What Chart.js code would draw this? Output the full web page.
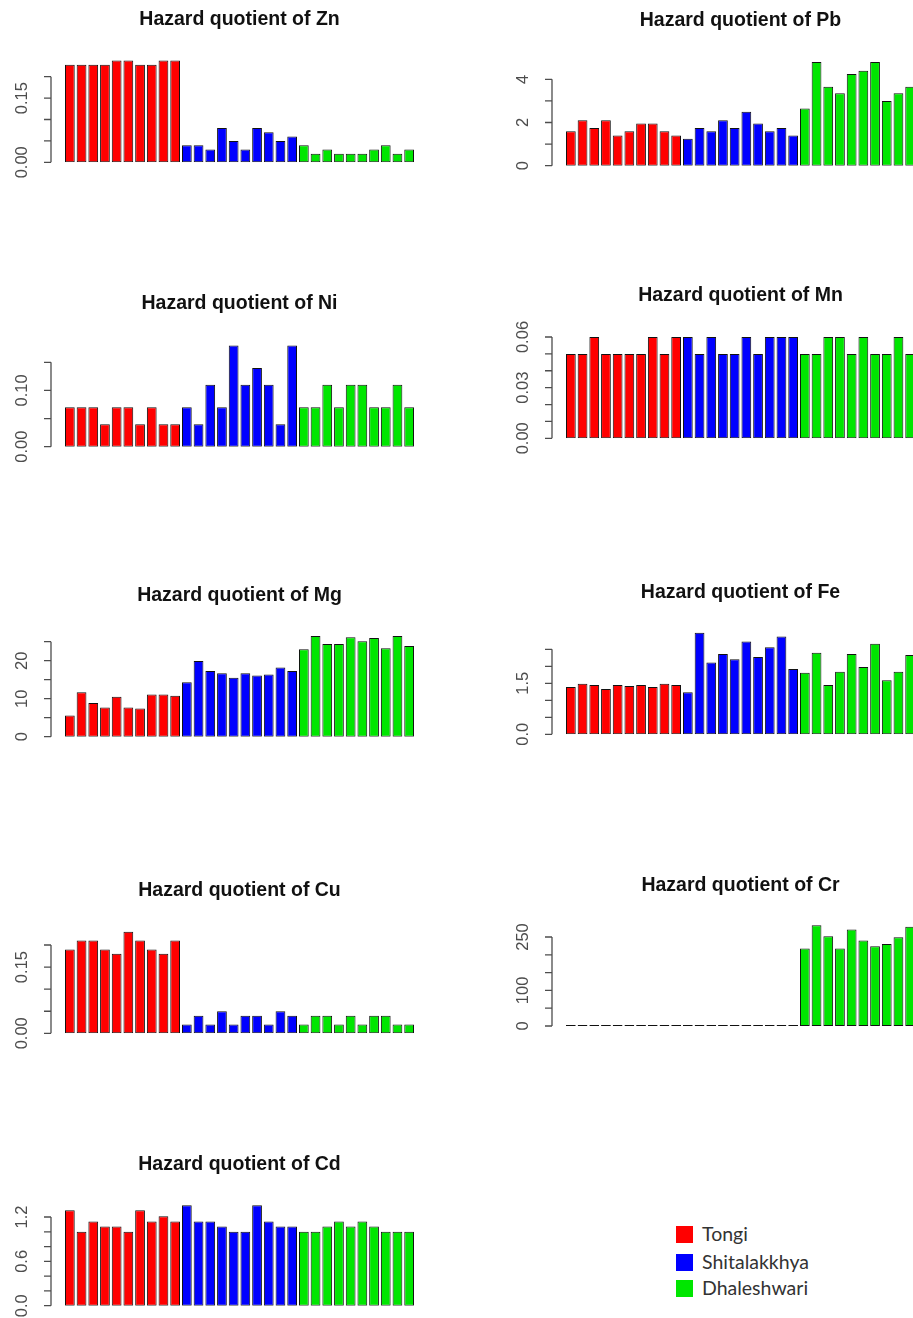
<!DOCTYPE html>
<html>
<head>
<meta charset="utf-8">
<script src="https://cdn.jsdelivr.net/npm/chart.js@4.4.1/dist/chart.umd.min.js"></script>
<style>
  body { margin: 0; background: #fff; }
  #page { position: relative; width: 913px; height: 1318px; overflow: hidden; background: #fff; }
  #page canvas { position: absolute; }
  .key { position: absolute; left: 676px; font: 19.5px Lato, "Open Sans", sans-serif; color: #333; line-height: 18px; }
  .key span { position: absolute; left: 0; top: 0; width: 17px; height: 17px; }
  .key b { position: absolute; left: 26px; top: -1px; font-weight: normal; white-space: nowrap; }
</style>
</head>
<body>
<div id="page"></div>
<script>
(() => {
    "use strict";

    // samples: 10 per river
    const categories = [
        "T1", "T2", "T3", "T4", "T5", "T6", "T7", "T8", "T9", "T10",
        "S1", "S2", "S3", "S4", "S5", "S6", "S7", "S8", "S9", "S10",
        "D1", "D2", "D3", "D4", "D5", "D6", "D7", "D8", "D9", "D10"
    ];
    const siteNames = ["Tongi", "Shitalakkhya", "Dhaleshwari"];
    const siteColors = ["#ff0000", "#0000ff", "#00e600"];

    // hazard quotients
    const zn = [0.228, 0.228, 0.228, 0.228, 0.238, 0.238, 0.228, 0.228, 0.238, 0.238,
        0.04, 0.04, 0.03, 0.08, 0.05, 0.03, 0.08, 0.07, 0.05, 0.06,
        0.04, 0.02, 0.03, 0.02, 0.02, 0.02, 0.03, 0.04, 0.02, 0.03];
    const pb = [1.6, 2.1, 1.75, 2.1, 1.4, 1.6, 1.95, 1.95, 1.6, 1.4,
        1.25, 1.75, 1.6, 2.1, 1.75, 2.5, 1.95, 1.6, 1.75, 1.4,
        2.65, 4.8, 3.65, 3.35, 4.25, 4.4, 4.8, 3.0, 3.35, 3.65];
    const ni = [0.07, 0.07, 0.07, 0.04, 0.07, 0.07, 0.04, 0.07, 0.04, 0.04,
        0.07, 0.04, 0.11, 0.07, 0.18, 0.11, 0.14, 0.11, 0.04, 0.18,
        0.07, 0.07, 0.11, 0.07, 0.11, 0.11, 0.07, 0.07, 0.11, 0.07];
    const mn = [0.05, 0.05, 0.06, 0.05, 0.05, 0.05, 0.05, 0.06, 0.05, 0.06,
        0.06, 0.05, 0.06, 0.05, 0.05, 0.06, 0.05, 0.06, 0.06, 0.06,
        0.05, 0.05, 0.06, 0.06, 0.05, 0.06, 0.05, 0.05, 0.06, 0.05];
    const mg = [5.6, 11.7, 8.9, 7.7, 10.5, 7.7, 7.4, 11.1, 11.1, 10.8,
        14.3, 19.9, 17.3, 16.7, 15.5, 16.7, 16.1, 16.4, 18.2, 17.3,
        23.0, 26.5, 24.4, 24.4, 26.2, 25.1, 26.0, 23.3, 26.5, 23.9];
    const fe = [1.39, 1.49, 1.45, 1.33, 1.45, 1.42, 1.45, 1.39, 1.49, 1.45,
        1.24, 2.99, 2.11, 2.36, 2.21, 2.73, 2.27, 2.56, 2.88, 1.92,
        1.81, 2.40, 1.45, 1.84, 2.36, 1.98, 2.66, 1.59, 1.84, 2.33];
    const cu = [0.19, 0.21, 0.21, 0.19, 0.18, 0.23, 0.21, 0.19, 0.18, 0.21,
        0.02, 0.04, 0.02, 0.05, 0.02, 0.04, 0.04, 0.02, 0.05, 0.04,
        0.02, 0.04, 0.04, 0.02, 0.04, 0.02, 0.04, 0.04, 0.02, 0.02];
    const cr = [3, 3, 3, 3, 3, 3, 3, 3, 3, 3,
        3, 3, 3, 3, 3, 3, 3, 3, 3, 3,
        218, 283, 252, 218, 271, 240, 224, 230, 249, 279];
    const cd = [1.29, 1.0, 1.14, 1.07, 1.07, 1.0, 1.29, 1.14, 1.21, 1.14,
        1.36, 1.14, 1.14, 1.07, 1.0, 1.0, 1.36, 1.14, 1.07, 1.07,
        1.0, 1.0, 1.07, 1.14, 1.07, 1.14, 1.07, 1.0, 1.0, 1.0];

    // axis ticks and which of them carry a label
    const znTicks = [0, 0.05, 0.10, 0.15, 0.20];
    const znLabels = ["0.00", "", "", "0.15", ""];
    const pbTicks = [0, 1, 2, 3, 4];
    const pbLabels = ["0", "", "2", "", "4"];
    const niTicks = [0, 0.05, 0.10, 0.15];
    const niLabels = ["0.00", "", "0.10", ""];
    const mnTicks = [0, 0.01, 0.02, 0.03, 0.04, 0.05, 0.06];
    const mnLabels = ["0.00", "", "", "0.03", "", "", "0.06"];
    const mgTicks = [0, 5, 10, 15, 20, 25];
    const mgLabels = ["0", "", "10", "", "20", ""];
    const feTicks = [0, 0.5, 1.0, 1.5, 2.0, 2.5];
    const feLabels = ["0.0", "", "", "1.5", "", ""];
    const cuTicks = [0, 0.05, 0.10, 0.15, 0.20];
    const cuLabels = ["0.00", "", "", "0.15", ""];
    const crTicks = [0, 50, 100, 150, 200, 250];
    const crLabels = ["0", "", "100", "", "", "250"];
    const cdTicks = [0, 0.2, 0.4, 0.6, 0.8, 1.0, 1.2];
    const cdLabels = ["0.0", "", "", "0.6", "", "", "1.2"];

    // page layout: column geometry and where each panel sits
    const cols = [
        {left: 0, width: 430, plotLeft: 64, plotRight: 415, axisX: 51},
        {left: 480, width: 460, plotLeft: 565, plotRight: 916, axisX: 552}
    ];
    const panels = [
        {name: "Zn", data: zn, ticks: znTicks, labels: znLabels, col: 0, zero: 162.3, top: 76.7, titleY: 20},
        {name: "Pb", data: pb, ticks: pbTicks, labels: pbLabels, col: 1, zero: 165.7, top: 79.3, titleY: 21},
        {name: "Ni", data: ni, ticks: niTicks, labels: niLabels, col: 0, zero: 446.7, top: 362.3, titleY: 304},
        {name: "Mn", data: mn, ticks: mnTicks, labels: mnLabels, col: 1, zero: 438.3, top: 337, titleY: 296},
        {name: "Mg", data: mg, ticks: mgTicks, labels: mgLabels, col: 0, zero: 736.7, top: 641.7, titleY: 596},
        {name: "Fe", data: fe, ticks: feTicks, labels: feLabels, col: 1, zero: 734.3, top: 649.3, titleY: 593},
        {name: "Cu", data: cu, ticks: cuTicks, labels: cuLabels, col: 0, zero: 1033.3, top: 945, titleY: 891},
        {name: "Cr", data: cr, ticks: crTicks, labels: crLabels, col: 1, zero: 1026, top: 937, titleY: 886},
        {name: "Cd", data: cd, ticks: cdTicks, labels: cdLabels, col: 0, zero: 1305.7, top: 1217, titleY: 1165}
    ];

    const page = document.getElementById("page");
    const barColors = categories.map(c => siteColors["TSD".indexOf(c[0])]);

    // R-style axis: line between first and last tick, outward ticks, rotated labels
    function rAxis(p, c, canvasTop) {
        return {
            id: "rAxis",
            afterDraw(chart) {
                const ctx = chart.ctx;
                const y = chart.scales.y;
                const ax = c.axisX - c.left;
                const ps = p.ticks.map(v => y.getPixelForValue(v));
                ctx.save();
                ctx.strokeStyle = "#4d4d4d";
                ctx.lineWidth = 1.3;
                ctx.beginPath();
                ctx.moveTo(ax, ps[0]);
                ctx.lineTo(ax, ps[ps.length - 1]);
                ps.forEach(py => {
                    ctx.moveTo(ax, py);
                    ctx.lineTo(ax - 7, py);
                });
                ctx.stroke();
                ctx.fillStyle = "#4d4d4d";
                ctx.font = "16.5px 'Liberation Sans', Arial, sans-serif";
                ctx.textAlign = "center";
                ctx.textBaseline = "middle";
                p.labels.forEach((t, i) => {
                    if (!t) return;
                    ctx.save();
                    ctx.translate(ax - 29, ps[i]);
                    ctx.rotate(-Math.PI / 2);
                    ctx.fillText(t, 0, 0);
                    ctx.restore();
                });
                ctx.fillStyle = "#111";
                ctx.font = "bold 19.5px 'Liberation Sans', Arial, sans-serif";
                const cx = (chart.chartArea.left + chart.chartArea.right) / 2;
                ctx.fillText("Hazard quotient of " + p.name, cx, p.titleY - canvasTop);
                ctx.restore();
            }
        };
    }

    panels.forEach(p => {
        const c = cols[p.col];
        const yMax = Math.max(...p.data) * 1.04;
        const topTick = p.ticks[p.ticks.length - 1];
        const yMaxPx = p.zero - (p.zero - p.top) * yMax / topTick;
        const canvasTop = Math.round(p.titleY - 22);
        const canvasBottom = Math.round(p.zero + 24);
        const h = canvasBottom - canvasTop;

        const canvas = document.createElement("canvas");
        canvas.width = c.width;
        canvas.height = h;
        canvas.style.left = c.left + "px";
        canvas.style.top = canvasTop + "px";
        page.appendChild(canvas);

        new Chart(canvas.getContext("2d"), {
            type: "bar",
            data: {
                labels: categories,
                datasets: [{
                    data: p.data,
                    backgroundColor: barColors,
                    borderColor: "#111",
                    borderWidth: 1,
                    borderSkipped: false,
                    barPercentage: 1 / 1.2,
                    categoryPercentage: 1
                }]
            },
            options: {
                responsive: false,
                animation: false,
                events: [],
                layout: {
                    padding: {
                        left: c.plotLeft - c.left,
                        right: c.left + c.width - c.plotRight,
                        top: yMaxPx - canvasTop,
                        bottom: canvasBottom - p.zero
                    }
                },
                plugins: {
                    legend: {display: false},
                    tooltip: {enabled: false}
                },
                scales: {
                    x: {display: false, offset: true},
                    y: {display: false, min: 0, max: yMax}
                }
            },
            plugins: [rAxis(p, c, canvasTop)]
        });
    });

    // river key
    const keyY = [1226, 1254, 1280];
    siteNames.forEach((name, i) => {
        const d = document.createElement("div");
        d.className = "key";
        d.style.top = keyY[i] + "px";
        d.innerHTML = "<span style='background:" + siteColors[i] + "'></span><b>" + name + "</b>";
        page.appendChild(d);
    });
})();
</script>
</body>
</html>
